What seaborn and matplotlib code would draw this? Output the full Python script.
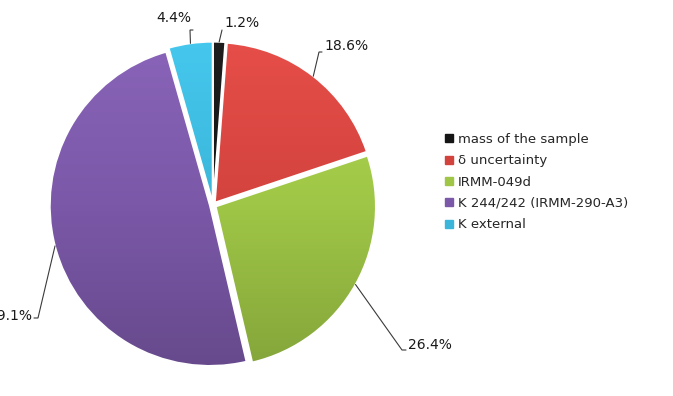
import numpy as np
import matplotlib
matplotlib.use("Agg")
import matplotlib.pyplot as plt
import seaborn as sns
from matplotlib.colors import to_rgb, LinearSegmentedColormap
from matplotlib.lines import Line2D
from matplotlib.patches import Wedge

# ---- data ----
categories = ["mass of the sample", "δ uncertainty", "IRMM-049d",
              "K 244/242 (IRMM-290-A3)", "K external"]
shares = [1.2, 18.6, 26.4, 49.1, 4.4]
labels = ["1.2%", "18.6%", "26.4%", "49.1%", "4.4%"]

# ---- style ----
colors = ["#151515", "#d3433e", "#9fc646", "#7b58a8", "#3bb6da"]
# label layout in pixels: (elbow point, text anchor, horizontal alignment)
label_layout = [((222, 30), (224, 23), "left"),
                ((319, 52), (324, 46), "left"),
                ((402, 350), (408, 345), "left"),
                ((38, 318), (32, 316), "right"),
                ((190, 30), (191, 18), "right")]

sns.set_theme(style="white")
plt.rcParams["font.family"] = ["DejaVu Sans"]

W, H = 673, 396
fig = plt.figure(figsize=(W / 100, H / 100), dpi=100)
ax = fig.add_axes([0, 0, 1, 1])
CX, CY, R = 213, 205, 160


def px(x, y):
    return ((x - CX) / R, (CY - y) / R)


wedges, _ = ax.pie(shares, colors=colors, startangle=90, counterclock=False,
                   explode=[0.02] * len(shares), radius=1.0,
                   wedgeprops=dict(linewidth=0))
ax.set_xlim(-CX / R, (W - CX) / R)
ax.set_ylim(-(H - CY) / R, CY / R)
ax.set_aspect("equal")
ax.axis("off")

grad = np.linspace(0, 1, 256).reshape(-1, 1)
for w, c in zip(wedges, colors):
    base = np.array(to_rgb(c))
    top = np.clip(base * 1.06 + 0.03, 0, 1)
    bot = base * 0.82
    cmap = LinearSegmentedColormap.from_list("g", [bot, base, top])
    im = ax.imshow(grad, cmap=cmap, extent=(-1.1, 1.1, -1.1, 1.1),
                   origin="lower", aspect="auto", zorder=2)
    im.set_clip_path(w)
    ax.add_patch(Wedge(w.center, w.r, w.theta1, w.theta2, facecolor="none",
                       edgecolor="white", linewidth=1.2, zorder=3))

# labels with leader lines
for w, lab, (elbow, tpos, ha) in zip(wedges, labels, label_layout):
    mid = np.deg2rad((w.theta1 + w.theta2) / 2)
    ax_, ay_ = w.center[0] + w.r * np.cos(mid), w.center[1] + w.r * np.sin(mid)
    ex, ey = px(*elbow)
    tx, ty = px(*tpos)
    hx = tx - 2 / R if ha == "left" else tx + 2 / R
    if abs(hx - ex) * R < 1:
        hx = ex
    ax.plot([ax_, ex, hx], [ay_, ey, ey], color="#3a3a3a", lw=0.8, zorder=4,
            solid_joinstyle="miter")
    ax.text(tx, ty, lab, ha=ha, va="center", fontsize=10, color="#1a1a1a", zorder=5)

handles = [Line2D([], [], marker="s", linestyle="none", markersize=5.5,
                  markerfacecolor=c, markeredgecolor=c) for c in colors]
fig.legend(handles, categories, loc="upper left",
           bbox_to_anchor=(444 / W, 1 - 133 / H), frameon=False,
           fontsize=9.5, handlelength=0.7, handletextpad=0.35,
           labelspacing=0.63, borderpad=0, borderaxespad=0)

fig.savefig("out.png", dpi=100, facecolor="white")
